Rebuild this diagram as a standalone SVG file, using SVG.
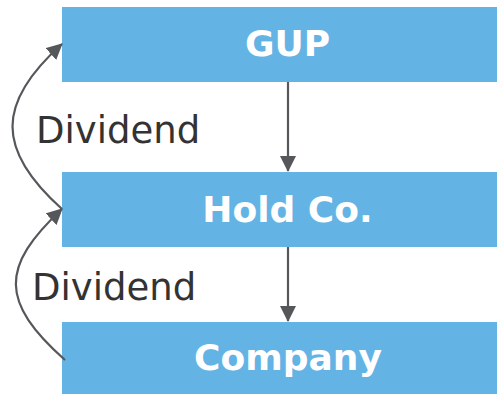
<svg xmlns="http://www.w3.org/2000/svg" width="497" height="394" viewBox="0 0 497 394">
  <style>
    .box { fill: #63b4e4; }
    .title { font-family: "DejaVu Sans", Verdana, sans-serif; font-weight: bold; font-size: 36px; fill: #ffffff; text-anchor: middle; }
    .label { font-family: "DejaVu Sans", Verdana, sans-serif; font-size: 37px; fill: #333333; }
    .edge { fill: none; stroke: #55575b; stroke-width: 2.2; }
  </style>
  <defs>
    <marker id="arrow" viewBox="0 0 16 16" refX="15" refY="8" markerWidth="16" markerHeight="16" markerUnits="userSpaceOnUse" orient="auto">
      <path d="M0,0 L16,8 L0,16 Z" fill="#55575b"/>
    </marker>
  </defs>

  <rect width="497" height="394" fill="#ffffff"/>

  <g id="gup">
    <rect class="box" x="62" y="7" width="450" height="75"/>
    <text class="title" x="287.5" y="56">GUP</text>
  </g>

  <g id="holdco">
    <rect class="box" x="62" y="172" width="450" height="75"/>
    <text class="title" x="287.5" y="222">Hold Co.</text>
  </g>

  <g id="company">
    <rect class="box" x="62" y="322" width="450" height="75"/>
    <text class="title" x="288" y="370">Company</text>
  </g>

  <g id="connectors">
    <!-- ownership, top to bottom -->
    <path class="edge" d="M288,82 L288,171" marker-end="url(#arrow)"/>
    <path class="edge" d="M288,247 L288,321" marker-end="url(#arrow)"/>
    <!-- dividend flows, bottom to top -->
    <path class="edge" d="M62,209 C-4,150 -4,103 62,44" marker-end="url(#arrow)"/>
    <path class="edge" d="M65,360 C0,302 0,267 62,209" marker-end="url(#arrow)"/>
    <text class="label" x="36" y="143">Dividend</text>
    <text class="label" x="32" y="300">Dividend</text>
  </g>
</svg>
